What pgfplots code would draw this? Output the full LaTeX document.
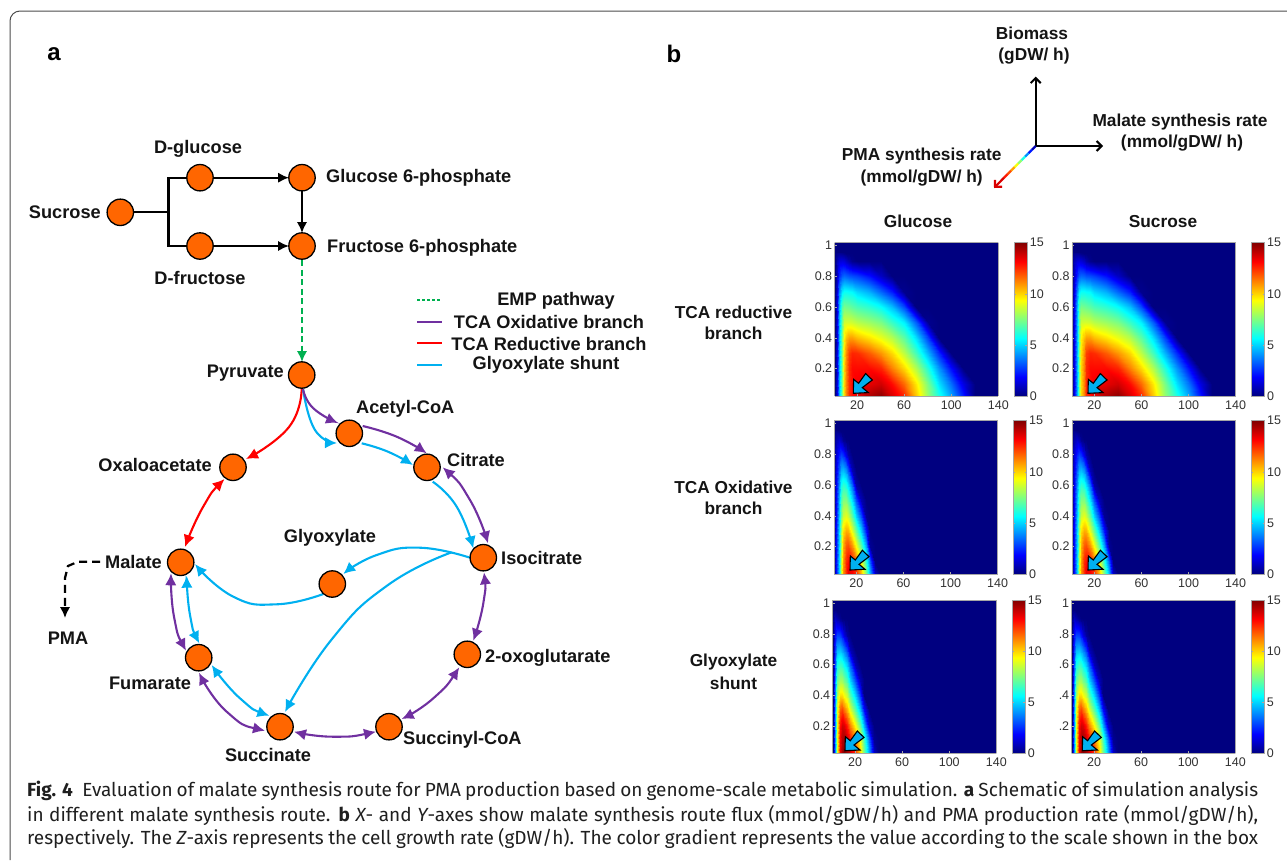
\documentclass[border=0pt]{standalone}
\usepackage{pgfplots}
\usepackage{pgfplotstable}
\usepackage{fontspec}
\setmainfont{Liberation Sans}
\newfontfamily\capfont{Fira Sans}
\pgfplotsset{compat=1.18}
\usetikzlibrary{arrows.meta}
\definecolor{nodeor}{RGB}{255,102,0}
\definecolor{tpurple}{RGB}{112,48,160}
\definecolor{tblue}{RGB}{0,176,240}
\definecolor{tgreen}{RGB}{0,176,80}
\definecolor{tred}{RGB}{255,0,0}
\definecolor{navyjet}{RGB}{0,0,128}
\definecolor{ticktxt}{RGB}{50,50,50}
\pgfplotstableread[row sep=\\]{x y z\\
1 0.02 0\\3 0.02 1.5\\5 0.02 4.5\\7 0.02 7.5\\9 0.02 10\\11 0.02 11.2\\13 0.02 12.5\\16 0.02 13\\20 0.02 13.5\\30 0.02 14.3\\40 0.02 14.8\\50 0.02 13.7\\60 0.02 12.6\\70 0.02 10.2\\80 0.02 7.8\\90 0.02 6\\100 0.02 4.3\\110 0.02 2.3\\120 0.02 0\\
1 0.1 0\\3 0.1 1.5\\5 0.1 4.5\\7 0.1 7.5\\9 0.1 10\\11 0.1 11.2\\13 0.1 12.5\\16 0.1 13\\20 0.1 13.3\\30 0.1 13.5\\40 0.1 13.8\\50 0.1 13\\60 0.1 11.6\\70 0.1 9.7\\80 0.1 7.4\\90 0.1 5.2\\100 0.1 3.5\\110 0.1 1.5\\120 0.1 0\\
1 0.2 0\\3 0.2 1.5\\5 0.2 4.5\\7 0.2 7.5\\9 0.2 10\\11 0.2 11.2\\13 0.2 12.5\\16 0.2 13\\20 0.2 13\\30 0.2 13\\40 0.2 12.6\\50 0.2 11.2\\60 0.2 9.9\\70 0.2 8.2\\80 0.2 6.1\\90 0.2 4\\100 0.2 2\\110 0.2 0\\120 0.2 0\\
1 0.3 0\\3 0.3 1.5\\5 0.3 4.5\\7 0.3 7.5\\9 0.3 9.8\\11 0.3 11\\13 0.3 12.2\\16 0.3 12.6\\20 0.3 12.5\\30 0.3 11.8\\40 0.3 10.9\\50 0.3 9.9\\60 0.3 8.4\\70 0.3 6.6\\80 0.3 4.5\\90 0.3 2.4\\100 0.3 0\\110 0.3 0\\120 0.3 0\\
1 0.4 0\\3 0.4 1.5\\5 0.4 4.5\\7 0.4 7.5\\9 0.4 9.5\\11 0.4 10.3\\13 0.4 10.8\\16 0.4 10.8\\20 0.4 10.4\\30 0.4 9.8\\40 0.4 9.1\\50 0.4 8.3\\60 0.4 7\\70 0.4 5.2\\80 0.4 2.8\\90 0.4 0\\100 0.4 0\\110 0.4 0\\120 0.4 0\\
1 0.5 0\\3 0.5 1.5\\5 0.5 4.5\\7 0.5 7.2\\9 0.5 8.6\\11 0.5 8.7\\13 0.5 8.7\\16 0.5 8.6\\20 0.5 8.3\\30 0.5 7.9\\40 0.5 7.4\\50 0.5 6.4\\60 0.5 5.4\\70 0.5 3.2\\80 0.5 0.2\\90 0.5 0\\100 0.5 0\\110 0.5 0\\120 0.5 0\\
1 0.6 0\\3 0.6 1.5\\5 0.6 4.5\\7 0.6 6.8\\9 0.6 7.4\\11 0.6 7.3\\13 0.6 7.2\\16 0.6 7\\20 0.6 6.7\\30 0.6 6.3\\40 0.6 5.7\\50 0.6 4.7\\60 0.6 3\\70 0.6 0\\80 0.6 0\\90 0.6 0\\100 0.6 0\\110 0.6 0\\120 0.6 0\\
1 0.7 0\\3 0.7 1.3\\5 0.7 3.8\\7 0.7 5.4\\9 0.7 5.8\\11 0.7 5.8\\13 0.7 5.7\\16 0.7 5.6\\20 0.7 5.1\\30 0.7 4.5\\40 0.7 3.4\\50 0.7 2.3\\60 0.7 0.2\\70 0.7 0\\80 0.7 0\\90 0.7 0\\100 0.7 0\\110 0.7 0\\120 0.7 0\\
1 0.8 0\\3 0.8 1\\5 0.8 2.4\\7 0.8 3.2\\9 0.8 3.4\\11 0.8 3.3\\13 0.8 3.1\\16 0.8 3\\20 0.8 2.8\\30 0.8 2.1\\40 0.8 1\\50 0.8 0\\60 0.8 0\\70 0.8 0\\80 0.8 0\\90 0.8 0\\100 0.8 0\\110 0.8 0\\120 0.8 0\\
1 0.9 0\\3 0.9 0.8\\5 0.9 1.3\\7 0.9 1.4\\9 0.9 1.3\\11 0.9 1\\13 0.9 0.6\\16 0.9 0.2\\20 0.9 0\\30 0.9 0\\40 0.9 0\\50 0.9 0\\60 0.9 0\\70 0.9 0\\80 0.9 0\\90 0.9 0\\100 0.9 0\\110 0.9 0\\120 0.9 0\\
1 0.95 0\\3 0.95 0.2\\5 0.95 0.3\\7 0.95 0.2\\9 0.95 0.1\\11 0.95 0\\13 0.95 0\\16 0.95 0\\20 0.95 0\\30 0.95 0\\40 0.95 0\\50 0.95 0\\60 0.95 0\\70 0.95 0\\80 0.95 0\\90 0.95 0\\100 0.95 0\\110 0.95 0\\120 0.95 0\\
}\tabA
\pgfplotstableread[row sep=\\]{x y z\\
1 0.02 0\\3 0.02 2\\5 0.02 5\\7 0.02 8.5\\9 0.02 11\\11 0.02 12.5\\13 0.02 13.5\\16 0.02 13.3\\20 0.02 12.5\\24 0.02 10.5\\28 0.02 7.5\\32 0.02 4.5\\36 0.02 1\\40 0.02 0\\
1 0.1 0\\3 0.1 2\\5 0.1 5\\7 0.1 8.3\\9 0.1 10.8\\11 0.1 12.5\\13 0.1 13\\16 0.1 12.8\\20 0.1 11.5\\24 0.1 9.3\\28 0.1 6.3\\32 0.1 3.3\\36 0.1 0\\40 0.1 0\\
1 0.2 0\\3 0.2 2\\5 0.2 5\\7 0.2 8\\9 0.2 10.5\\11 0.2 11.8\\13 0.2 12\\16 0.2 11\\20 0.2 9.3\\24 0.2 7\\28 0.2 4.3\\32 0.2 0.3\\36 0.2 0\\40 0.2 0\\
1 0.3 0\\3 0.3 2\\5 0.3 5\\7 0.3 7.8\\9 0.3 9.8\\11 0.3 10.6\\13 0.3 10.5\\16 0.3 9\\20 0.3 7.2\\24 0.3 5\\28 0.3 2.2\\32 0.3 0\\36 0.3 0\\40 0.3 0\\
1 0.4 0\\3 0.4 1.8\\5 0.4 4.8\\7 0.4 7.2\\9 0.4 8.6\\11 0.4 9\\13 0.4 8.6\\16 0.4 7\\20 0.4 5\\24 0.4 3\\28 0.4 0.3\\32 0.4 0\\36 0.4 0\\40 0.4 0\\
1 0.5 0\\3 0.5 1.7\\5 0.5 4.5\\7 0.5 6.6\\9 0.5 7.5\\11 0.5 7.5\\13 0.5 6.8\\16 0.5 5.2\\20 0.5 3\\24 0.5 0.8\\28 0.5 0\\32 0.5 0\\36 0.5 0\\40 0.5 0\\
1 0.6 0\\3 0.6 1.6\\5 0.6 4\\7 0.6 5.8\\9 0.6 6.3\\11 0.6 6\\13 0.6 5.2\\16 0.6 3.4\\20 0.6 0.6\\24 0.6 0\\28 0.6 0\\32 0.6 0\\36 0.6 0\\40 0.6 0\\
1 0.7 0\\3 0.7 1.4\\5 0.7 3.2\\7 0.7 4.4\\9 0.7 4.6\\11 0.7 4\\13 0.7 3\\16 0.7 0.8\\20 0.7 0\\24 0.7 0\\28 0.7 0\\32 0.7 0\\36 0.7 0\\40 0.7 0\\
1 0.8 0\\3 0.8 1.2\\5 0.8 2.2\\7 0.8 2.7\\9 0.8 2.4\\11 0.8 1.4\\13 0.8 0.6\\16 0.8 0\\20 0.8 0\\24 0.8 0\\28 0.8 0\\32 0.8 0\\36 0.8 0\\40 0.8 0\\
1 0.9 0\\3 0.9 0.6\\5 0.9 1\\7 0.9 0.7\\9 0.9 0.2\\11 0.9 0\\13 0.9 0\\16 0.9 0\\20 0.9 0\\24 0.9 0\\28 0.9 0\\32 0.9 0\\36 0.9 0\\40 0.9 0\\
1 0.95 0\\3 0.95 0.2\\5 0.95 0.1\\7 0.95 0\\9 0.95 0\\11 0.95 0\\13 0.95 0\\16 0.95 0\\20 0.95 0\\24 0.95 0\\28 0.95 0\\32 0.95 0\\36 0.95 0\\40 0.95 0\\
}\tabB
\pgfplotstableread[row sep=\\]{x y z\\
1 0.02 0\\3 0.02 4\\5 0.02 9\\7 0.02 13.5\\9 0.02 14.5\\11 0.02 15\\13 0.02 14.5\\16 0.02 13.8\\20 0.02 12.5\\24 0.02 10\\28 0.02 7.3\\32 0.02 4.3\\36 0.02 1\\40 0.02 0\\
1 0.1 0\\3 0.1 4\\5 0.1 9\\7 0.1 13.3\\9 0.1 14.3\\11 0.1 14.5\\13 0.1 14\\16 0.1 13\\20 0.1 11.5\\24 0.1 9.3\\28 0.1 6.7\\32 0.1 3.6\\36 0.1 0.3\\40 0.1 0\\
1 0.2 0\\3 0.2 4\\5 0.2 9\\7 0.2 13\\9 0.2 13.8\\11 0.2 13.7\\13 0.2 12.8\\16 0.2 11.3\\20 0.2 9.5\\24 0.2 7.2\\28 0.2 4.5\\32 0.2 1.2\\36 0.2 0\\40 0.2 0\\
1 0.3 0\\3 0.3 4\\5 0.3 8.8\\7 0.3 11.8\\9 0.3 12.2\\11 0.3 11.5\\13 0.3 10.5\\16 0.3 9\\20 0.3 7\\24 0.3 4.8\\28 0.3 2\\32 0.3 0\\36 0.3 0\\40 0.3 0\\
1 0.4 0\\3 0.4 3.8\\5 0.4 8\\7 0.4 9.8\\9 0.4 9.8\\11 0.4 9.2\\13 0.4 8.5\\16 0.4 6.8\\20 0.4 5\\24 0.4 2.6\\28 0.4 0\\32 0.4 0\\36 0.4 0\\40 0.4 0\\
1 0.5 0\\3 0.5 3.5\\5 0.5 7\\7 0.5 8\\9 0.5 7.9\\11 0.5 7.3\\13 0.5 6.6\\16 0.5 5\\20 0.5 3\\24 0.5 0.8\\28 0.5 0\\32 0.5 0\\36 0.5 0\\40 0.5 0\\
1 0.6 0\\3 0.6 3\\5 0.6 5.8\\7 0.6 6.4\\9 0.6 6.2\\11 0.6 5.6\\13 0.6 4.8\\16 0.6 3.2\\20 0.6 0.8\\24 0.6 0\\28 0.6 0\\32 0.6 0\\36 0.6 0\\40 0.6 0\\
1 0.7 0\\3 0.7 2.5\\5 0.7 4.4\\7 0.7 4.6\\9 0.7 4.2\\11 0.7 3.6\\13 0.7 2.6\\16 0.7 0.8\\20 0.7 0\\24 0.7 0\\28 0.7 0\\32 0.7 0\\36 0.7 0\\40 0.7 0\\
1 0.8 0\\3 0.8 1.8\\5 0.8 2.7\\7 0.8 2.6\\9 0.8 2\\11 0.8 1.2\\13 0.8 0.4\\16 0.8 0\\20 0.8 0\\24 0.8 0\\28 0.8 0\\32 0.8 0\\36 0.8 0\\40 0.8 0\\
1 0.9 0\\3 0.9 0.9\\5 0.9 0.6\\7 0.9 0.2\\9 0.9 0\\11 0.9 0\\13 0.9 0\\16 0.9 0\\20 0.9 0\\24 0.9 0\\28 0.9 0\\32 0.9 0\\36 0.9 0\\40 0.9 0\\
1 0.95 0\\3 0.95 0.2\\5 0.95 0\\7 0.95 0\\9 0.95 0\\11 0.95 0\\13 0.95 0\\16 0.95 0\\20 0.95 0\\24 0.95 0\\28 0.95 0\\32 0.95 0\\36 0.95 0\\40 0.95 0\\
}\tabC

% heat map: #1 left px, #2 bottom px, #3 table, #4 columns in the mesh, #5 extra options
\newcommand\heat[5]{%
\begin{axis}[at={(#1pt,860pt-#2pt)},anchor=south west,scale only axis,width=163.6pt,height=153.4pt,
  xmin=1,xmax=140,ymin=0.02,ymax=1.02,view={0}{90},
  axis background/.style={fill=navyjet},
  axis line style={draw=gray!70,line width=0.5pt},
  major tick length=2pt,tick style={draw=gray!70,line width=0.4pt},
  xtick={20,60,100,140},xticklabels={20,60,100,140},
  ytick={0.2,0.4,0.6,0.8,1},yticklabels={0.2,0.4,0.6,0.8,1},
  tick label style={font=\fontsize{12.5}{14}\selectfont,text=ticktxt},
  tick align=inside,xtick pos=bottom,ytick pos=left,
  xticklabel style={yshift=-1pt},yticklabel style={xshift=1pt},
  colormap/jet,point meta min=0,point meta max=15,
  colorbar,
  colorbar style={at={(parent axis.north east)},anchor=north west,xshift=7.2pt,width=13.3pt,
    ytick={0,5,10,15},yticklabels={0,5,10,15},yticklabel pos=right,
    axis line style={draw=gray!70,line width=0.5pt},
    major tick length=2pt,
    tick label style={font=\fontsize{12.5}{14}\selectfont,text=ticktxt},
    yticklabel style={xshift=-1pt}},
  #5]
\addplot3[surf,shader=interp,mesh/cols=#4,point meta=z] table[x=x,y=y,z=z]{#3};
\end{axis}}

\newcommand\lab[3][center]{\node[anchor=#1,inner sep=0pt,font=\bfseries\fontsize{18.2}{20}\selectfont,text=black!92] at (axis cs:#2) {#3};}
\newcommand\labr[3][center]{\node[anchor=#1,inner sep=0pt,font=\bfseries\fontsize{17.3}{20}\selectfont,text=black!92] at (axis cs:#2) {#3};}
\newcommand\blk[1]{\addplot[draw=black,fill=tblue,line width=1.1pt,line join=miter] coordinates {#1} --cycle;}

\tikzset{
 ah/.style={tension=0.85,-{Latex[length=12pt,width=11.5pt]}},
 ahh/.style={tension=0.85,{Latex[length=12pt,width=11.5pt]}-{Latex[length=12pt,width=11.5pt]}},
 ah2/.style={-{Latex[length=11pt,width=10.5pt]}}
}
\begin{document}
\begin{tikzpicture}
\begin{axis}[at={(0pt,0pt)},anchor=south west,scale only axis,width=1287pt,height=860pt,
  xmin=0,xmax=1287,ymin=0,ymax=860,y dir=reverse,hide axis,clip=false,
  colormap/jet,point meta min=0,point meta max=15]
% frame
\addplot[draw=black!70,line width=1pt,rounded corners=10pt] coordinates {(10,860)(10,11)(1287,11)};
% upper pathway
\addplot[draw=black,line width=2.2pt] coordinates {(130,212)(168.5,212)};
\addplot[draw=black,line width=2.2pt] coordinates {(200,177.7)(168.5,177.7)(168.5,246)(200,246)};
\addplot[draw=black,line width=2.2pt,ah2] coordinates {(212,177.7)(289,177.7)};
\addplot[draw=black,line width=2.2pt,ah2] coordinates {(212,246)(289,246)};
\addplot[draw=black,line width=2.2pt,ah2] coordinates {(302,190)(302,233)};
\addplot[draw=tgreen,line width=2.2pt,dash pattern=on 6pt off 3.5pt,ah2] coordinates {(302,260)(302,362)};
% TCA curves
\addplot[draw=tred,line width=2.1pt,smooth,ah] coordinates {(301.7,388)(289,427)(246,459)};
\addplot[draw=tred,line width=2.1pt,smooth,ahh] coordinates {(224.5,479)(203,507)(185,547)};
\addplot[draw=tblue,line width=2.1pt,smooth,ah] coordinates {(303,389)(315,430)(337,443)};
\addplot[draw=tpurple,line width=2.1pt,smooth,ah] coordinates {(303,389)(313,408)(338,423)};
\addplot[draw=tpurple,line width=2.1pt,smooth,ah] coordinates {(362.7,426)(396.7,436.7)(426.7,453.3)};
\addplot[draw=tblue,line width=2.1pt,smooth,ah] coordinates {(361.7,443.3)(388,451.7)(413,465)};
\addplot[draw=tpurple,line width=2.1pt,smooth,ahh] coordinates {(442.7,467.3)(470,500)(488,543.3)};
\addplot[draw=tblue,line width=2.1pt,smooth,ah] coordinates {(432.7,481.7)(456.7,506.7)(473.3,548.3)};
\addplot[draw=tpurple,line width=2.1pt,smooth,ahh] coordinates {(484,572.3)(483.3,603.3)(473.3,640.7)};
\addplot[draw=tpurple,line width=2.1pt,smooth,ahh] coordinates {(459.3,667.3)(433.3,698.3)(401.7,719)};
\addplot[draw=tpurple,line width=2.1pt,smooth,ahh] coordinates {(376,731.7)(333,736.7)(294,731.7)};
\addplot[draw=tpurple,line width=2.1pt,smooth,ahh] coordinates {(265,730.7)(226.7,711.7)(199,672.7)};
\addplot[draw=tblue,line width=2.1pt,smooth,ahh] coordinates {(269.3,715.7)(240,698.3)(211.7,665)};
\addplot[draw=tpurple,line width=2.1pt,smooth,ahh] coordinates {(186,650.7)(174,616.7)(171,573.3)};
\addplot[draw=tblue,line width=2.1pt,smooth,ahh] coordinates {(199.3,643.3)(190,615)(186.7,575.7)};
\addplot[draw=tblue,line width=2.1pt,smooth,ah] coordinates {(323.3,594)(276.7,604.3)(233.3,596.7)(195,564)};
\addplot[draw=tblue,line width=2.1pt,smooth,ah] coordinates {(470,557.7)(420,547.7)(376.7,555)(343.3,574)};
\addplot[draw=tblue,line width=2.1pt,smooth,ah] coordinates {(451.7,552.3)(388,585)(332,639)(285,712)};
\addplot[draw=black,line width=2.2pt,dash pattern=on 8pt off 5pt,ah2] coordinates {(100,561.7)(78,561.7)(68,566)(65,578)(65,618)};
% metabolite nodes
\addplot[only marks,mark=*,mark size=13.2pt,mark options={fill=nodeor,draw=black,line width=1.3pt}] coordinates {
 (120.3,212.3)(200,177.7)(302,177.7)(200,246)(302,246)(301.7,375)(233,467.3)(180.7,562.3)(198.7,657.7)(280,726.7)
 (349.3,433.3)(427,467.3)(483.3,557.7)(332.3,584)(467.3,654.3)(389,726.7)};
% legend samples
\addplot[draw=tgreen,line width=2pt,dash pattern=on 3pt off 2pt] coordinates {(417,300.3)(441.5,300.3)};
\addplot[draw=tpurple,line width=2pt] coordinates {(417,321.7)(441.5,321.7)};
\addplot[draw=tred,line width=2pt] coordinates {(417,343.3)(441.5,343.3)};
\addplot[draw=tblue,line width=2pt] coordinates {(417,364.7)(441.5,364.7)};
% axes triad
\addplot[draw=black,line width=2pt,-{Straight Barb[length=5pt,width=10pt]}] coordinates {(1035.7,146)(1035.7,76.7)};
\addplot[draw=black,line width=2pt,-{Straight Barb[length=5pt,width=10pt]}] coordinates {(1035.7,146)(1103,146)};
\addplot[mesh,point meta=explicit,line width=2.2pt] coordinates {(1035.7,146)[0] (1032,149.7)[1.5] (1028.5,153.2)[3] (1025,156.7)[5] (1021.5,160.2)[7] (1018,163.7)[8.5] (1014.5,167.2)[10] (1011,170.7)[11.5] (1007.5,174.2)[12.5] (1004,177.7)[13]};
\addplot[draw=red!85!black,line width=2.2pt,-{Straight Barb[length=5pt,width=10pt]}] coordinates {(1004,177.7)(994,188)};
% labels
\node[inner sep=0pt,font=\bfseries\fontsize{24}{28}\selectfont] at (axis cs:54,54) {a};
\node[inner sep=0pt,font=\bfseries\fontsize{24}{28}\selectfont] at (axis cs:674,54) {b};
\lab{198,149}{D-glucose}
\lab[west]{326,177.5}{Glucose 6-phosphate}
\lab[east]{101,212}{Sucrose}
\lab[west]{327,247.5}{Fructose 6-phosphate}
\lab{200,278}{D-fructose}
\lab[east]{284,373}{Pyruvate}
\lab[west]{356,408.5}{Acetyl-CoA}
\lab[west]{447,460}{Citrate}
\lab[west]{501,558}{Isocitrate}
\lab{330,538}{Glyoxylate}
\lab[east]{162,562}{Malate}
\lab{68,638}{PMA}
\lab{150,683.5}{Fumarate}
\lab[east]{212,465}{Oxaloacetate}
\lab[west]{485,658}{2-oxoglutarate}
\lab[west]{403,740}{Succinyl-CoA}
\lab{268,754.5}{Succinate}
\lab{556,300.5}{EMP pathway}
\lab{549,322}{TCA Oxidative branch}
\lab{549,343.5}{TCA Reductive branch}
\lab{546,365}{Glyoxylate shunt}
\labr{1032,33}{Biomass}
\labr{1034,56}{(gDW/ h)}
\labr{1180,121.7}{Malate synthesis rate}
\labr{1182,143}{(mmol/gDW/ h)}
\labr{921.7,155.7}{PMA synthesis rate}
\labr{921.7,177.7}{(mmol/gDW/ h)}
\labr{918,221.5}{Glucose}
\labr{1163,221.5}{Sucrose}
\labr{733.5,312}{TCA reductive}
\labr{733.5,333}{branch}
\labr{733.5,487}{TCA Oxidative}
\labr{733.5,508}{branch}
\labr{733.5,662}{Glyoxylate}
\labr{733.5,683}{shunt}
% caption
\node[anchor=west,inner sep=0pt,font=\capfont\fontsize{19}{20}\selectfont,text=black!88] at (axis cs:27,791) {\hbox to 1231pt{{\bfseries Fig. 4}\hskip 0.5em Evaluation of malate synthesis route for PMA production based on genome-scale metabolic simulation. {\bfseries a} Schematic of simulation analysis}};
\node[anchor=west,inner sep=0pt,font=\capfont\fontsize{19}{20}\selectfont,text=black!88] at (axis cs:27,815) {\hbox to 1231pt{in different malate synthesis route. {\bfseries b} {\itshape X}- and {\itshape Y}-axes show malate synthesis route flux (mmol/gDW/h) and PMA production rate (mmol/gDW/h),}};
\node[anchor=west,inner sep=0pt,font=\capfont\fontsize{19}{20}\selectfont,text=black!88] at (axis cs:27,838) {\hbox to 1231pt{respectively. The {\itshape Z}-axis represents the cell growth rate (gDW/h). The color gradient represents the value according to the scale shown in the box}};
\path (axis cs:0,0) rectangle (axis cs:1287,860);
\end{axis}
% heat maps
\heat{834.7}{396}{\tabA}{19}{}
\heat{1072}{396}{\tabA}{19}{}
\heat{834}{574}{\tabB}{14}{}
\heat{1072}{574}{\tabB}{14}{}
\heat{832.7}{753.4}{\tabC}{14}{}
\heat{1071.7}{753.4}{\tabC}{14}{yticklabels={.2,.4,.6,.8,1}}
% block arrows over the heat maps
\begin{axis}[at={(0pt,0pt)},anchor=south west,scale only axis,width=1287pt,height=860pt,
  xmin=0,xmax=1287,ymin=0,ymax=860,y dir=reverse,hide axis,clip=false]
\blk{(853.3,393.3)(853.6,379.3)(858.6,383.3)(865.6,373.6)(872.3,380)(862.3,387.6)(868.3,392.6)}
\blk{(1088,393.3)(1088.3,379.3)(1093.3,383.3)(1100.3,373.6)(1107,380)(1097,387.6)(1103,392.6)}
\blk{(850,570)(850.3,556)(855.3,560)(862.3,550.3)(869,556.7)(859,564.3)(865,569.3)}
\blk{(1088,570)(1088.3,556)(1093.3,560)(1100.3,550.3)(1107,556.7)(1097,564.3)(1103,569.3)}
\blk{(845,750.7)(845.3,736.7)(850.3,740.7)(857.3,731)(864,737.4)(854,745)(860,750)}
\blk{(1082.3,750.7)(1082.6,736.7)(1087.6,740.7)(1094.6,731)(1101.3,737.4)(1091.3,745)(1097.3,750)}
\end{axis}
\pgfresetboundingbox
\path (0pt,0pt) rectangle (1287pt,860pt);
\end{tikzpicture}
\end{document}
